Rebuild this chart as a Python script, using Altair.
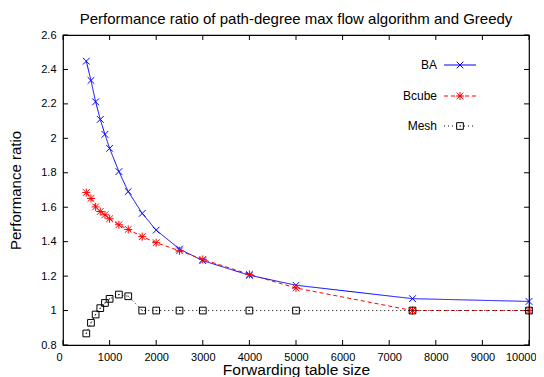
import altair as alt
import pandas as pd

# ---- data ----
table_size = [500, 600, 700, 800, 900, 1000, 1200, 1400, 1700, 2000, 2500, 3000, 4000, 5000, 7500, 10000]
ba = [2.448, 2.336, 2.212, 2.110, 2.023, 1.942, 1.807, 1.691, 1.564, 1.467, 1.357, 1.290, 1.205, 1.147, 1.069, 1.053]
bcube = [1.685, 1.651, 1.602, 1.575, 1.556, 1.533, 1.498, 1.471, 1.429, 1.394, 1.347, 1.297, 1.210, 1.131, 1.000, 1.000]
mesh = [0.867, 0.929, 0.977, 1.014, 1.044, 1.068, 1.093, 1.083, 1.000, 1.000, 1.000, 1.000, 1.000, 1.000, 1.000, 1.000]
series_names = ["BA", "Bcube", "Mesh"]
x_ticks = [0, 1000, 2000, 3000, 4000, 5000, 6000, 7000, 8000, 9000, 10000]
y_ticks = [0.8, 1.0, 1.2, 1.4, 1.6, 1.8, 2.0, 2.2, 2.4, 2.6]

W, H = 466, 310
TL = 5  # inward tick length
FONT = "Liberation Sans"

styles = {
    "BA": dict(color="#0000ff", dash=[1, 0],
               shape="M-1,-1L1,1M-1,1L1,-1"),
    "Bcube": dict(color="#ff0000", dash=[4, 3],
                  shape="M-1,-1L1,1M-1,1L1,-1M-1.2,0L1.2,0M0,-1.2L0,1.2"),
    "Mesh": dict(color="#000000", dash=[1, 3],
                 shape="M-1,-1L1,-1L1,1L-1,1Z M-0.15,0L0.15,0"),
}
values = {"BA": ba, "Bcube": bcube, "Mesh": mesh}

xscale = alt.Scale(domain=[0, 10000], nice=False, zero=False)
yscale = alt.Scale(domain=[0.8, 2.6], nice=False, zero=False)
xaxis = alt.Axis(values=x_ticks, format="d", labelPadding=6, titlePadding=0.5,
                 labelFlush=True, labelFlushOffset=7, titleFontSize=15.5)
yaxis = alt.Axis(values=y_ticks, format="~g", labelPadding=7, titlePadding=17,
                 titleFontSize=15)
XT = "Forwarding table size"
YT = "Performance ratio"

layers = []
for name in series_names:
    df = pd.DataFrame({"size": table_size, "ratio": values[name]})
    st = styles[name]
    base = alt.Chart(df).encode(
        x=alt.X("size:Q", scale=xscale, title=XT, axis=xaxis),
        y=alt.Y("ratio:Q", scale=yscale, title=YT, axis=yaxis),
    )
    layers.append(base.mark_line(color=st["color"], strokeDash=st["dash"], strokeWidth=1))
    layers.append(base.mark_point(shape=st["shape"], color=st["color"], filled=False,
                                  size=45, strokeWidth=1, opacity=1))

# inward ticks (gnuplot style)
xt = pd.DataFrame({"size": x_ticks})
yt = pd.DataFrame({"ratio": y_ticks})
tick_x = alt.X("size:Q", scale=xscale, title=XT, axis=xaxis)
tick_y = alt.Y("ratio:Q", scale=yscale, title=YT, axis=yaxis)
layers.append(alt.Chart(xt).mark_rule(color="black").encode(x=tick_x, y=alt.value(H), y2=alt.value(H - TL)))
layers.append(alt.Chart(xt).mark_rule(color="black").encode(x=tick_x, y=alt.value(0), y2=alt.value(TL)))
layers.append(alt.Chart(yt).mark_rule(color="black").encode(y=tick_y, x=alt.value(0), x2=alt.value(TL)))
layers.append(alt.Chart(yt).mark_rule(color="black").encode(y=tick_y, x=alt.value(W), x2=alt.value(W - TL)))

# legend in gnuplot style (label left, sample right)
leg_y = {"BA": 30, "Bcube": 61, "Mesh": 91}
for name in series_names:
    st = styles[name]
    ld = pd.DataFrame({"name": [name]})
    lc = alt.Chart(ld)
    layers.append(lc.mark_text(align="right", baseline="middle", font=FONT, fontSize=12, color="black")
                  .encode(text="name:N", x=alt.value(374), y=alt.value(leg_y[name])))
    layers.append(lc.mark_rule(color=st["color"], strokeDash=st["dash"], strokeWidth=1)
                  .encode(x=alt.value(381), x2=alt.value(413), y=alt.value(leg_y[name])))
    layers.append(lc.mark_point(shape=st["shape"], color=st["color"], filled=False, size=45,
                                strokeWidth=1, opacity=1)
                  .encode(x=alt.value(397), y=alt.value(leg_y[name])))

chart = alt.layer(*layers).properties(
    width=W, height=H,
    title=alt.TitleParams("Performance ratio of path-degree max flow algorithm and Greedy",
                          font=FONT, fontSize=15, fontWeight="normal", color="black",
                          anchor="middle", offset=2),
    autosize=alt.AutoSizeParams(type="none"),
    padding={"left": 55, "top": 27, "right": 7, "bottom": 40},
).configure_view(
    stroke="black", strokeWidth=1.2
).configure_axis(
    domain=False, ticks=False, grid=False,
    labelFont=FONT, labelFontSize=11, labelColor="black",
    titleFont=FONT, titleFontWeight="normal", titleColor="black",
)

chart.save("out.html", embed_options={"renderer": "svg", "actions": False})
